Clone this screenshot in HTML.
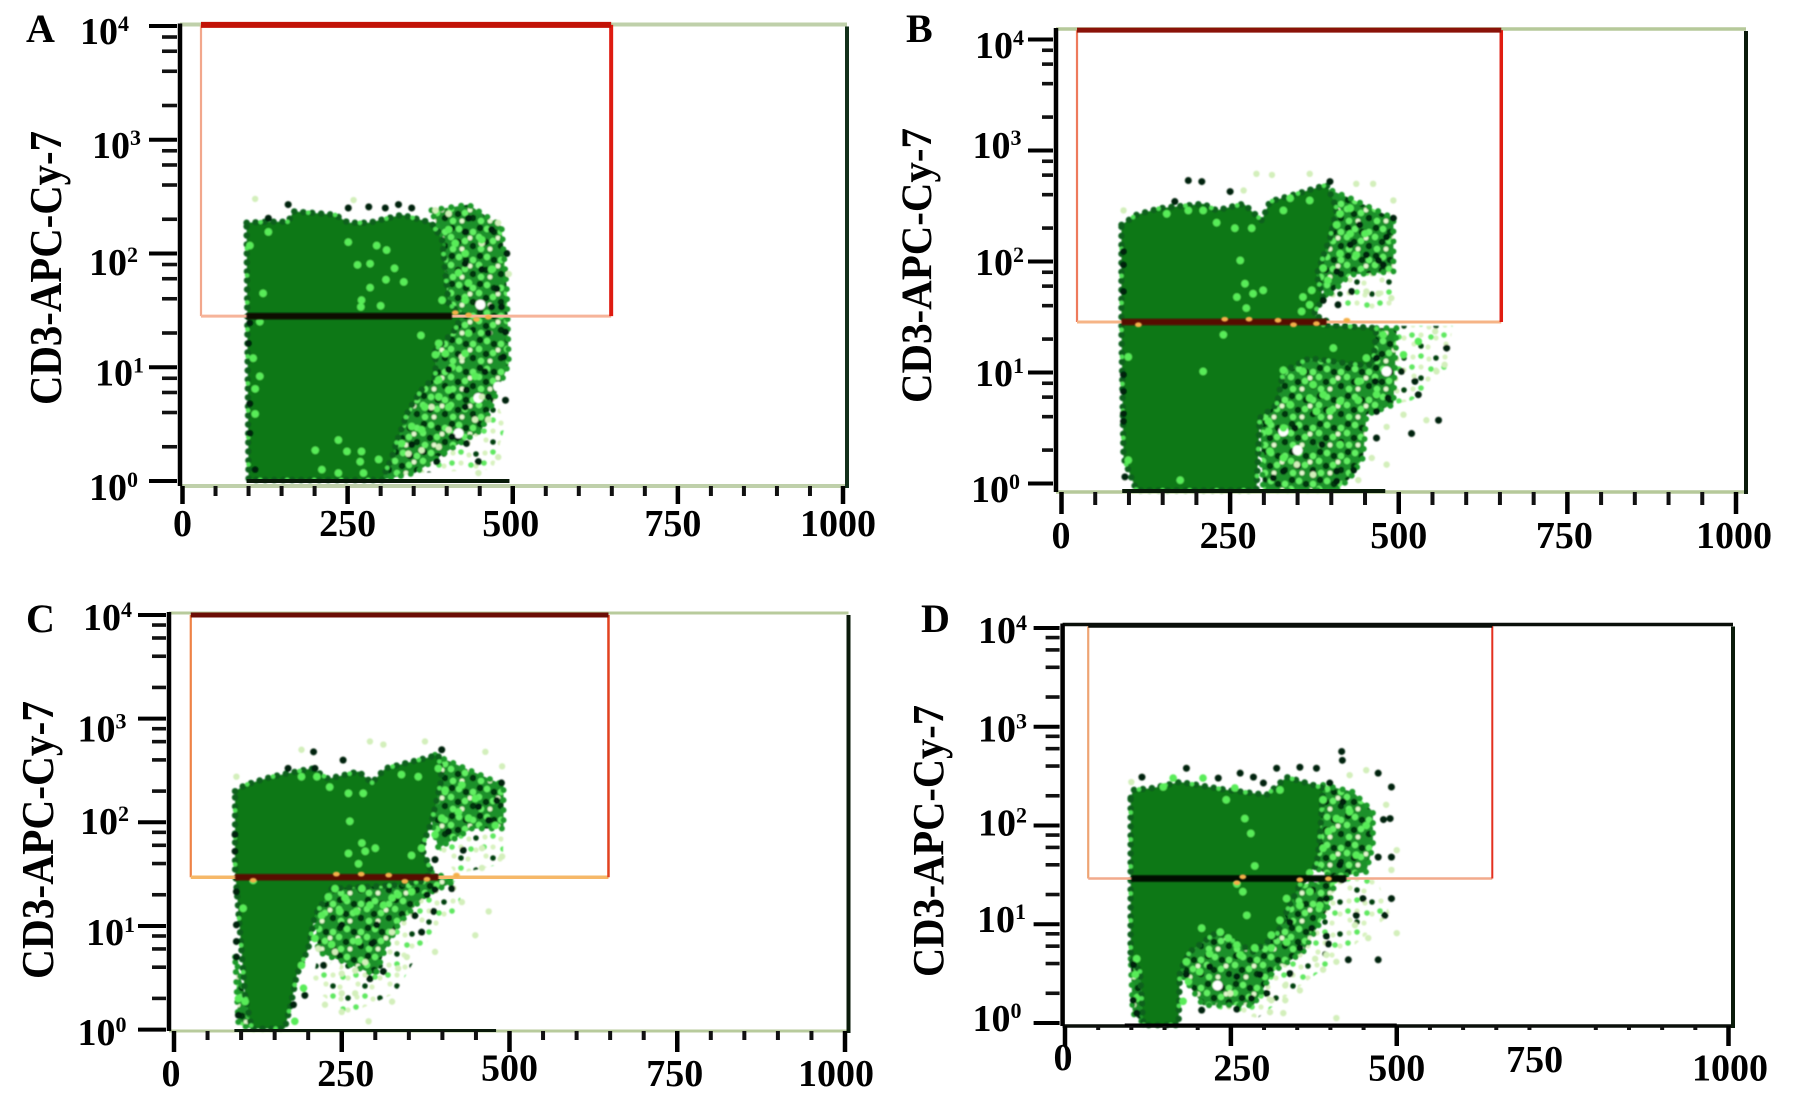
<!DOCTYPE html>
<html lang="en">
<head>
<meta charset="utf-8">
<title>CD3-APC-Cy-7 flow cytometry panels</title>
<style>
html,body{margin:0;padding:0;background:#fff;width:1795px;height:1101px;overflow:hidden}
svg{display:block}
text{font-family:"Liberation Serif",serif;font-weight:bold;fill:#000}
</style>
</head>
<body>
<svg id="figure" xmlns="http://www.w3.org/2000/svg" width="1795" height="1101" viewBox="0 0 1795 1101">
  <defs>
    <filter id="soft" filterUnits="userSpaceOnUse" x="0" y="0" width="1795" height="1101"><feGaussianBlur stdDeviation="0.9"/></filter>
    <pattern id="mottle" width="28" height="28" patternUnits="userSpaceOnUse">
      <rect width="28" height="28" fill="#1f9029"/>
      <circle cx="4" cy="4" r="3.4" fill="#04360c"/><circle cx="18" cy="8" r="3.4" fill="#04360c"/><circle cx="10" cy="18" r="3.4" fill="#04360c"/><circle cx="25" cy="22" r="3.4" fill="#04360c"/>
      <circle cx="11" cy="5" r="3.2" fill="#63f064"/><circle cx="25" cy="8" r="3.2" fill="#63f064"/><circle cx="3" cy="13" r="3.2" fill="#63f064"/><circle cx="17" cy="17" r="3.2" fill="#63f064"/><circle cx="5" cy="25" r="3.2" fill="#63f064"/>
      <circle cx="22" cy="14" r="2.4" fill="#e4f8d0"/><circle cx="14" cy="25" r="2.4" fill="#e4f8d0"/>
    </pattern>
    <pattern id="mottle-faint" width="32" height="32" patternUnits="userSpaceOnUse">
      <circle cx="5" cy="5" r="2.6" fill="#d8f2c0"/><circle cx="21" cy="7" r="2.6" fill="#d8f2c0"/><circle cx="13" cy="15" r="2.6" fill="#d8f2c0"/><circle cx="28" cy="18" r="2.6" fill="#d8f2c0"/><circle cx="6" cy="24" r="2.6" fill="#d8f2c0"/><circle cx="20" cy="27" r="2.6" fill="#d8f2c0"/>
      <circle cx="13" cy="4" r="2.8" fill="#5fe860"/><circle cx="4" cy="15" r="2.8" fill="#5fe860"/><circle cx="23" cy="17" r="2.8" fill="#5fe860"/>
      <circle cx="28" cy="6" r="2.8" fill="#06400e"/><circle cx="13" cy="26" r="2.8" fill="#06400e"/>
    </pattern>
  </defs>
  <rect width="1795" height="1101" fill="#ffffff"/>
  <g id="panel-a"></g>
  <g id="panel-b"></g>
  <g id="panel-c"></g>
  <g id="panel-d"></g>
  <text x="26" y="42" font-size="40">A</text>
  <text x="906" y="42" font-size="40">B</text>
  <text x="26" y="632" font-size="40">C</text>
  <text x="921" y="632" font-size="40">D</text>
  <text transform="translate(61,405) rotate(-90)" font-size="45" textLength="274" lengthAdjust="spacingAndGlyphs">CD3-APC-Cy-7</text>
  <text transform="translate(931,403) rotate(-90)" font-size="43" textLength="275" lengthAdjust="spacingAndGlyphs">CD3-APC-Cy-7</text>
  <text transform="translate(53,979) rotate(-90)" font-size="45" textLength="278" lengthAdjust="spacingAndGlyphs">CD3-APC-Cy-7</text>
  <text transform="translate(943,977) rotate(-90)" font-size="44" textLength="272" lengthAdjust="spacingAndGlyphs">CD3-APC-Cy-7</text>
</svg>
<script>
// Axis values
const xTickValues = [0, 250, 500, 750, 1000];
const xTickLabels = ['0', '250', '500', '750', '1000'];
const xMinorValues = [50, 100, 150, 200, 300, 350, 400, 450, 550, 600, 650, 700, 800, 850, 900, 950];
const yDecades = [0, 1, 2, 3, 4];
const yTickBase = '10';
const yMinorMultipliers = [2, 4, 6, 8];

// All points are [FSC value, log10 CD3 value]
// Gates: [x min, x max, log10 min, log10 max]
const aGate = [28, 649, 1.45, 4.01];
const bGate = [23, 652, 1.455, 4.085];
const cGate = [25, 647.5, 1.47, 4.0];
const dGate = [35, 644, 1.463, 4.02];

// Overlap band of events on the gate edge: [x start, x end]
const aBand = [97, 408];
const bBand = [89, 393];
const cBand = [91, 394];
const dBand = [100, 424];

// Events stacked on the lower axis: [x start, x end]
const aFloor = [97, 495];
const bFloor = [90, 480];
const cFloor = [90, 480];
const dFloor = [90, 500];

const aDense = [[97,2.27],[130,2.28],[160,2.28],[168,2.37],[231,2.34],[251,2.27],[282,2.27],[332,2.34],[377,2.27],[393,2.12],[398,1.83],[403,1.56],[423,1.46],[413,1.33],[383,1.15],[383,.92],[362,.80],[342,.62],[327,.39],[317,.21],[302,.01],[100,.01]];
const aSparse = [[[377,2.38],[433,2.43],[483,2.24],[491,1.68],[494,1.03],[473,.74],[453,.45],[403,.27],[352,.07],[302,.01],[342,.62],[383,1.15],[423,1.46],[403,1.56],[393,2.12]]];
const aFaint = [[[403,.27],[453,.45],[473,.74],[489,.5],[470,.1],[352,.07]]];
const aLight = [[130,2.19],[102,2.07],[251,2.10],[294,2.07],[309,2.03],[265,1.90],[284,1.91],[321,1.87],[308,1.77],[335,1.75],[284,1.70],[271,1.59],[270,1.53],[300,1.54],[122,1.65],[117,1.40],[361,1.28],[388,1.21],[383,1.11],[107,1.08],[117,.92],[110,.81],[110,.59],[201,.27],[236,.36],[249,.26],[271,.26],[211,.10],[236,.07],[269,.17],[274,.07],[297,.19],[388,.89],[398,1.12],[413,2.09],[403,2.21],[428,2.0],[418,1.83],[453,2.12],[468,1.86],[433,1.74],[393,1.59],[428,1.59],[433,1.30],[428,1.12],[408,1.0],[443,.92],[388,.74],[403,.80],[367,.65],[347,.48],[332,.33],[362,.45],[403,.65]];
const aDark = [[433,2.31],[428,2.19],[491,2.0],[468,2.21],[453,1.86],[428,1.91],[476,1.69],[468,1.53],[483,1.53],[463,1.30],[489,1.31],[486,1.09],[458,.96],[430,.80],[428,.65],[489,.71],[463,.74],[408,.39],[430,.33],[385,.17],[448,.17],[347,.32],[403,.98],[102,.42],[102,1.39],[100,1.21],[102,.68],[110,.10],[160,2.43],[282,2.41],[307,2.40],[327,2.43],[347,2.40],[251,2.40],[130,2.31]];
const aPale = [[110,2.48],[259,2.47],[453,2.09],[478,2.27],[383,2.38],[403,2.35],[463,.54],[388,.30],[478,.21],[448,.07],[494,1.82],[342,.24],[362,.27],[403,.45],[443,.54],[423,1.09],[453,.74],[377,.65]];
const aHoles = [[451,1.55],[448,.73],[478,.83],[418,.42]];
const aBandSpots = [[413,1.48],[433,1.46],[463,1.44],[445,1.42]];

const bDense = [[89,2.33],[111,2.42],[146,2.48],[210,2.52],[230,2.46],[270,2.52],[297,2.37],[309,2.54],[349,2.61],[393,2.69],[408,2.48],[398,2.21],[378,1.88],[388,1.67],[373,1.52],[393,1.47],[388,1.43],[467,1.40],[462,1.07],[437,1.07],[368,1.13],[329,1.01],[319,.71],[294,.59],[289,-.06],[111,-.06],[92,.23],[89,1.37]];
const bSparse = [[[388,2.67],[428,2.57],[492,2.39],[492,1.91],[428,1.88],[393,1.67],[378,1.88],[398,2.21]],[[467,1.40],[497,1.40],[492,.71],[452,.62],[447,.23],[428,.05],[408,-.06],[299,-.06],[294,.59],[329,1.01],[368,1.13],[437,1.07]]];
const bFaint = [[[497,1.42],[580,1.42],[570,1.0],[520,.75],[492,.71]],[[428,1.88],[492,1.91],[490,1.6],[440,1.55],[393,1.67]]];
const bLight = [[230,2.35],[257,2.30],[282,2.30],[265,2.01],[272,1.80],[284,1.71],[299,1.74],[260,1.68],[274,1.58],[356,1.55],[368,1.61],[371,1.74],[358,1.68],[388,1.94],[395,1.83],[408,2.33],[428,2.25],[450,2.25],[413,2.07],[437,2.06],[428,2.48],[413,2.43],[368,2.55],[329,2.46],[339,2.57],[156,2.43],[188,2.46],[210,2.46],[99,1.14],[240,1.34],[210,1.01],[403,1.22],[452,1.13],[329,1.02],[358,1.01],[373,.89],[388,.80],[368,.77],[398,.65],[339,.71],[307,.56],[307,.47],[329,.50],[309,.29],[329,.23],[413,.74],[440,.92],[440,.75],[467,.80],[176,.03],[99,.21],[477,1.34],[507,1.16],[529,1.28],[378,.65],[413,.35]];
const bDark = [[492,2.39],[482,2.22],[470,2.01],[477,1.97],[442,2.33],[428,2.15],[452,2.06],[408,1.91],[430,1.73],[410,1.61],[388,1.65],[250,2.63],[188,2.73],[208,2.72],[168,2.54],[398,2.72],[504,1.01],[524,.92],[529,.80],[559,.57],[519,.45],[467,.41],[571,1.22],[467,1.13],[465,.92],[484,.77],[467,.65],[346,.50],[386,.35],[408,.11],[408,.02],[433,.12],[314,.05],[329,.11],[92,.83],[92,.98],[92,.63],[92,.56],[94,.06],[92,1.97],[92,1.73],[92,2.09]];
const bPale = [[92,2.46],[289,2.79],[312,2.78],[368,2.79],[462,2.70],[437,2.70],[492,2.55],[489,1.67],[452,1.73],[470,1.71],[482,.51],[482,.17],[541,.57],[507,.62],[568,1.07],[460,.23],[440,.03],[349,.17],[373,.08],[554,1.37],[556,1.01],[270,2.64]];
const bHoles = [[329,.47],[482,1.01],[350,.30],[478,.50]];
const bBandSpots = [[242,1.48],[278,1.48],[321,1.47],[114,1.43],[344,1.43],[378,1.44],[423,1.47]];

const cDense = [[91,2.30],[106,2.36],[146,2.44],[205,2.52],[230,2.42],[275,2.49],[295,2.38],[315,2.52],[394,2.65],[399,2.42],[384,2.01],[369,1.75],[384,1.52],[369,1.43],[325,1.39],[235,1.36],[210,1.10],[200,.78],[183,.53],[175,.27],[165,.01],[116,.01],[106,.33],[91,1.55]];
const cSparse = [[[389,2.65],[434,2.52],[491,2.36],[491,1.94],[444,1.94],[394,1.75],[384,2.01]],[[384,1.52],[419,1.43],[374,1.30],[334,1.01],[315,.78],[300,.53],[215,.75],[210,1.10],[235,1.36]],[[91,.7],[106,.33],[116,.01],[96,.05]]];
const cFaint = [[[300,.53],[315,.78],[334,1.01],[374,1.30],[419,1.43],[430,1.2],[370,.8],[330,.35],[260,.15],[205,.4],[215,.75]],[[394,1.75],[444,1.94],[491,1.94],[490,1.6],[420,1.5]]];
const cLight = [[232,2.34],[260,2.28],[282,2.28],[262,2.01],[280,1.80],[285,1.72],[300,1.75],[260,1.70],[275,1.60],[118,1.44],[103,1.17],[230,1.28],[240,1.36],[255,1.27],[272,1.14],[292,1.20],[312,1.20],[280,1.36],[247,1.14],[220,1.10],[210,.88],[354,1.68],[369,1.75],[389,1.88],[404,2.31],[449,2.23],[429,2.36],[424,2.10],[439,2.04],[394,2.52],[364,2.44],[339,2.46],[190,2.44],[213,2.44],[399,2.04],[479,1.97],[334,1.30],[354,1.33],[325,1.27],[190,.62],[193,.40],[106,.27],[180,.08],[96,.30],[235,.82],[275,.85]];
const cDark = [[488,2.38],[469,2.02],[481,2.21],[454,2.15],[409,1.91],[431,1.73],[389,1.64],[399,2.70],[252,2.60],[208,2.68],[210,2.52],[170,2.52],[389,1.35],[377,1.30],[414,1.36],[387,1.14],[359,1.10],[369,.94],[295,.83],[312,.56],[292,.49],[223,.62],[195,.33],[178,.24],[96,.14],[93,.85],[93,.70],[93,1.01],[93,1.33],[91,1.88],[91,1.72],[302,1.01],[250,1.01]];
const cPale = [[93,2.44],[292,2.78],[312,2.75],[374,2.78],[190,2.70],[464,2.68],[489,2.54],[459,1.75],[489,1.67],[459,1.56],[429,1.23],[469,1.14],[449,.91],[389,.75],[347,.70],[334,.59],[250,.54],[270,.57],[250,.35],[270,.35],[325,.27],[225,.24],[250,.17],[290,.08],[215,.78],[240,.75],[325,.94],[285,.65]];
const cHoles = [[240,.62]];
const cBandSpots = [[242,1.50],[279,1.50],[320,1.49],[344,1.43],[377,1.45],[421,1.49],[118,1.44]];

const dDense = [[99,2.28],[103,2.36],[133,2.38],[173,2.44],[244,2.36],[304,2.31],[334,2.49],[349,2.46],[389,2.38],[384,1.87],[379,1.60],[354,1.40],[334,1.13],[319,.89],[284,.72],[229,.92],[188,.72],[173,.52],[171,-.02],[118,-.02],[113,.52],[99,.65]];
const dSparse = [[[389,2.41],[434,2.34],[464,2.14],[464,1.80],[454,1.53],[404,1.47],[379,1.57]],[[409,1.46],[394,1.13],[359,.72],[314,.52],[284,.18],[208,.18],[173,.52],[188,.72],[229,.92],[284,.72],[319,.89],[334,1.13],[354,1.40]],[[99,.65],[113,.52],[118,.0],[102,.1]]];
const dFaint = [[[314,.52],[359,.72],[394,1.13],[409,1.46],[470,1.46],[490,1.1],[430,.75],[350,.35],[290,.05],[208,.18],[284,.18]]];
const dLight = [[243,2.26],[271,2.07],[280,1.92],[286,1.59],[268,1.33],[274,1.09],[206,.96],[259,1.41],[334,1.26],[354,1.19],[324,1.04],[311,.89],[311,.76],[334,.82],[234,.92],[246,.86],[259,.79],[218,.70],[183,.62],[203,.52],[186,.42],[108,.65],[106,.49],[108,.25],[178,.22],[389,2.26],[409,2.07],[397,1.94],[389,1.77],[429,2.14],[439,1.70],[454,2.00],[369,1.52],[369,1.33],[384,1.19],[324,2.36],[208,2.48],[163,2.48],[148,2.39],[256,2.38],[286,.76],[264,.69]];
const dDark = [[183,2.58],[116,2.49],[231,2.48],[264,2.53],[284,2.49],[299,2.43],[319,2.58],[354,2.59],[379,2.58],[417,2.75],[418,2.66],[472,2.53],[492,2.39],[399,2.43],[419,2.24],[480,2.06],[490,2.07],[472,1.68],[492,1.68],[414,1.60],[417,1.45],[449,1.26],[492,1.26],[482,1.09],[439,1.09],[394,1.26],[372,.96],[394,.88],[397,.80],[427,.64],[472,.64],[339,1.02],[354,.76],[339,.50],[259,.47],[218,.57],[281,.25],[259,.14],[206,.13],[304,.30],[103,.23],[108,.10],[103,.59],[183,.49],[294,.49]];
const dPale = [[100,2.44],[429,2.51],[454,2.56],[484,2.21],[500,1.75],[492,1.55],[500,.91],[457,.86],[437,.99],[409,.62],[389,.54],[354,.33],[332,.38],[332,.23],[311,.23],[309,.11],[329,.10],[249,.30],[409,.05],[377,.65],[394,.69]];
const dHoles = [[230,.38]];
const dBandSpots = [[268,1.48],[354,1.45],[397,1.46],[259,1.42]];

// Layout (pixel geometry and styling only)
const panels = [
 {id:'panel-a', x0:182.5, ux:.6605, y0:481, dec:113.75, left:180, right:847, top:24.5, bottom:486, edge:'#bfd0aa', edgeW:4, rightColor:'#12301a', floorY:481, floorColor:'#081a08', floorW:4, bandColor:'#0a0800',
  gate:aGate, band:aBand, floor:aFloor, dense:aDense, sparse:aSparse, faint:aFaint, light:aLight, dark:aDark, pale:aPale, holes:aHoles, spots:aBandSpots,
  gateTop:'#c21206', gateTopW:6, gateRight:'#de1a10', gateRightW:4, gateLeft:'#f2a78c', gateBottom:'#f6b49a', gateBottomW:3,
  yLabelX:[89,95,89,92,80], yLabelDy:[19,18,21.5,18,18], xLabelDx:[0,0,-2,-5,-5], xBase:[536,536,536,536,536], major:[0,250,500,750,1000], yMajor:28, yMinor:15, xMajor:18, xMinor:10},
 {id:'panel-b', x0:1061.5, ux:.6745, y0:483.5, dec:111, left:1056, right:1746, top:29, bottom:492, edge:'#b6c99a', edgeW:3.5, rightColor:'#0a1a0a', floorY:491, floorColor:'#081a08', floorW:4, bandColor:'#560a05',
  gate:bGate, band:bBand, floor:bFloor, dense:bDense, sparse:bSparse, faint:bFaint, light:bLight, dark:bDark, pale:bPale, holes:bHoles, spots:bBandSpots,
  gateTop:'#8a1208', gateTopW:5, gateRight:'#e01c10', gateRightW:3.5, gateLeft:'#ee7a5c', gateBottom:'#f6b486', gateBottomW:3,
  yLabelX:[971,975,975,972.5,975], yLabelDy:[18.5,13.5,13.5,7.5,18.5], xLabelDx:[-.5,-2,0,-3,-2], xBase:[548,548,548,548,548], major:[0,250,500,750,1000], yMajor:25, yMinor:11, xMajor:22, xMinor:13},
 {id:'panel-c', x0:174, ux:.671, y0:1029.6, dec:103.65, left:169, right:848.5, top:613, bottom:1031, edge:'#b8cb9c', edgeW:3, rightColor:'#0a1a0a', floorY:1030.5, floorColor:'#0a1a0a', floorW:3, bandColor:'#580a05',
  gate:cGate, band:cBand, floor:cFloor, dense:cDense, sparse:cSparse, faint:cFaint, light:cLight, dark:cDark, pale:cPale, holes:cHoles, spots:cBandSpots,
  gateTop:'#6c0e05', gateTopW:5, gateRight:'#e2421f', gateRightW:2.5, gateLeft:'#ee8246', gateBottom:'#f6b868', gateBottomW:3.5,
  yLabelX:[77.5,86,80,77.5,83], yLabelDy:[15.4,19,11.7,22.8,15], xLabelDx:[-3,4,0,-2.5,-9], xBase:[1086,1086,1080.5,1086,1086], major:[0,250,500,750,1000], yMajor:28, yMinor:14, xMajor:21, xMinor:9},
 {id:'panel-d', x0:1065, ux:.6635, y0:1023, dec:98.75, left:1062.6, right:1733, top:624.5, bottom:1026, edge:'#0a0f0a', edgeW:3.5, rightColor:'#0a1a0a', floorY:1025, floorColor:'#000', floorW:3, bandColor:'#050a02',
  gate:dGate, band:dBand, floor:dFloor, dense:dDense, sparse:dSparse, faint:dFaint, light:dLight, dark:dDark, pale:dPale, holes:dHoles, spots:dBandSpots,
  gateTop:'#0a0f0a', gateTopW:3.5, gateRight:'#e4301f', gateRightW:2, gateLeft:'#eea474', gateBottom:'#f2aa8c', gateBottomW:2.5,
  yLabelX:[972.5,977,978,978,978], yLabelDy:[8,7.75,10.2,14.75,15], xLabelDx:[-2,11,0,-28,1.5], xBase:[1070,1080.5,1080.5,1072,1080.5], major:[0,250,500,1000], yMajor:26, yMinor:14, xMajor:20, xMinor:4}
];

const NS = 'http://www.w3.org/2000/svg';
function mk(tag, parent, attrs) {
  const el = document.createElementNS(NS, tag);
  for (const k in attrs) el.setAttribute(k, attrs[k]);
  parent.appendChild(el);
  return el;
}

panels.forEach(function (p) {
  const root = document.getElementById(p.id);
  const xs = function (v) { return p.x0 + v * p.ux; };
  const ys = function (d) { return p.y0 - d * p.dec; };
  const toPts = function (arr) { return arr.map(function (q) { return xs(q[0]).toFixed(1) + ',' + ys(q[1]).toFixed(1); }).join(' '); };

  // scatter
  const scatter = mk('g', root, {filter: 'url(#soft)'});
  
  

  p.faint.forEach(function (poly) {
    const el = mk('polygon', scatter, {points: toPts(poly), fill: 'url(#mottle-faint)'});
    
    
  });
  p.sparse.forEach(function (poly) {
    const el = mk('polygon', scatter, {points: toPts(poly), fill: 'url(#mottle)', stroke: '#1f9a2a', 'stroke-width': '6', 'stroke-linecap': 'round', 'stroke-dasharray': '0 10'});
    
    
  });
  const dense = mk('polygon', scatter, {points: toPts(p.dense), fill: '#0a7814', stroke: '#07601a', 'stroke-width': '6.5', 'stroke-linecap': 'round', 'stroke-dasharray': '0 9'});
  
  
  const denseEdge = mk('polygon', scatter, {points: toPts(p.dense), fill: 'none', stroke: '#4fe254', 'stroke-width': '4.5', 'stroke-linecap': 'round', 'stroke-dasharray': '0 27', 'stroke-dashoffset': '13'});
  
  

  p.holes.forEach(function (q) {
    const el = mk('circle', scatter, {cx: xs(q[0]), cy: ys(q[1]), r: 5, fill: '#ffffff'});
    
    
  });
  p.pale.forEach(function (q) {
    const el = mk('circle', scatter, {cx: xs(q[0]), cy: ys(q[1]), r: 3.2, fill: '#d3efbb'});
    
    
  });
  p.light.forEach(function (q) {
    const el = mk('circle', scatter, {cx: xs(q[0]), cy: ys(q[1]), r: 3.8, fill: '#58ec58'});
    
    
  });
  p.dark.forEach(function (q) {
    const el = mk('circle', scatter, {cx: xs(q[0]), cy: ys(q[1]), r: 3.5, fill: '#02240a'});
    
    
  });

  // frame top and bottom
  const frameTop = mk('line', root, {x1: p.left, x2: p.right, y1: p.top, y2: p.top, stroke: p.edge, 'stroke-width': p.edgeW});
  
  
  const frameBottom = mk('line', root, {x1: p.left, x2: p.right, y1: p.bottom, y2: p.bottom, stroke: p.edge, 'stroke-width': p.edgeW});
  
  
  const floor = mk('line', root, {x1: xs(p.floor[0]), x2: xs(p.floor[1]), y1: p.floorY, y2: p.floorY, stroke: p.floorColor, 'stroke-width': p.floorW});
  
  

  // gate
  const g = p.gate;
  const gateLeft = mk('line', root, {x1: xs(g[0]), x2: xs(g[0]), y1: ys(g[3]), y2: ys(g[2]), stroke: p.gateLeft, 'stroke-width': 2.2});
  
  
  const gateBottom = mk('line', root, {x1: xs(g[0]), x2: xs(g[1]), y1: ys(g[2]), y2: ys(g[2]), stroke: p.gateBottom, 'stroke-width': p.gateBottomW});
  
  
  const gateRight = mk('line', root, {x1: xs(g[1]), x2: xs(g[1]), y1: ys(g[3]), y2: ys(g[2]), stroke: p.gateRight, 'stroke-width': p.gateRightW});
  
  
  const gateTop = mk('line', root, {x1: xs(g[0]), x2: xs(g[1]), y1: ys(g[3]), y2: ys(g[3]), stroke: p.gateTop, 'stroke-width': p.gateTopW});
  
  

  const band = mk('line', root, {x1: xs(p.band[0]), x2: xs(p.band[1]), y1: ys(g[2]), y2: ys(g[2]), stroke: p.bandColor, 'stroke-width': 6.5, filter: 'url(#soft)'});
  
  
  p.spots.forEach(function (q) {
    const el = mk('ellipse', root, {cx: xs(q[0]), cy: ys(q[1]), rx: 3.4, ry: 2.4, fill: '#f4b04a', filter: 'url(#soft)'});
    
    
  });

  // axes
  const yAxis = mk('line', root, {x1: p.left, x2: p.left, y1: p.top - 1, y2: p.bottom, stroke: '#000', 'stroke-width': 4.5});
  
  
  const rightEdge = mk('line', root, {x1: p.right, x2: p.right, y1: p.top + 2, y2: p.bottom + 2, stroke: p.rightColor, 'stroke-width': 4});
  
  

  yDecades.forEach(function (d, i) {
    const tick = mk('line', root, {x1: p.left - p.yMajor - 3, x2: p.left - 3, y1: ys(d), y2: ys(d), stroke: '#000', 'stroke-width': 4});
    
    
    if (d < 4) {
      yMinorMultipliers.forEach(function (m) {
        const mt = mk('line', root, {x1: p.left - p.yMinor - 3, x2: p.left - 3, y1: ys(d + Math.log10(m)), y2: ys(d + Math.log10(m)), stroke: '#111', 'stroke-width': 3.6});
        
        
      });
    }
    const label = mk('text', root, {x: p.yLabelX[i], y: ys(d) + p.yLabelDy[i], 'font-size': 38});
    
    
    label.textContent = yTickBase;
    const sup = mk('tspan', label, {dy: -13, 'font-size': 22});
    
    
    sup.textContent = String(d);
  });

  xTickValues.forEach(function (v, i) {
    if (p.major.indexOf(v) >= 0) {
      const tick = mk('line', root, {x1: xs(v), x2: xs(v), y1: p.bottom, y2: p.bottom + p.xMajor, stroke: '#000', 'stroke-width': 4.5});
      
      
    }
    const label = mk('text', root, {x: xs(v) + p.xLabelDx[i], y: p.xBase[i], 'font-size': 38, 'text-anchor': 'middle'});
    
    
    label.textContent = xTickLabels[i];
  });
  xMinorValues.forEach(function (v) {
    const mt = mk('line', root, {x1: xs(v), x2: xs(v), y1: p.bottom, y2: p.bottom + p.xMinor, stroke: '#111', 'stroke-width': 4});
    
    
  });
});
</script>
</body>
</html>
